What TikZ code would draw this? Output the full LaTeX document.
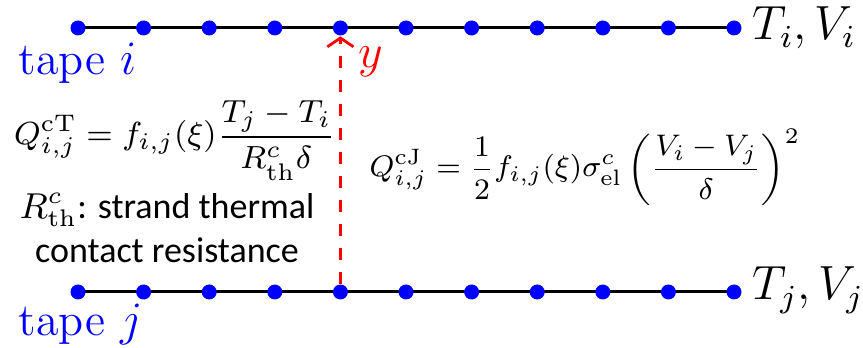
\documentclass[tikz,border=0pt]{standalone}
\usepackage{amsmath}
\usepackage{fontspec}
\newfontfamily\calibfont{Carlito}
\usetikzlibrary{arrows.meta,backgrounds}

\begin{document}
\begin{tikzpicture}[
        x=0.25pt, y=-0.25pt,
        dot/.style={circle, fill=blue, inner sep=0pt, minimum size=3.75pt},
        tapeline/.style={line width=0.75pt, black},
        gapline/.style={red, line width=0.7pt, dash pattern=on 3pt off 3pt,
            -{Straight Barb[length=2.2pt,width=6.5pt]}},
        lbl/.style={inner sep=0pt, font=\fontsize{11.5}{14}\selectfont},
        eqn/.style={inner sep=0pt, font=\fontsize{8}{10}\selectfont}
    ]
    \useasboundingbox (0,0) rectangle (863,348);
    % Nós das duas fitas
    \foreach \k in {0,...,10} {
        \node[dot] (ti\k) at (78+65.6*\k, 28) {};
        \node[dot] (tj\k) at (78+65.6*\k, 292) {};
    }
    \begin{scope}[on background layer]
        \draw[tapeline] (ti0.center) -- (ti10.center);
        \draw[tapeline] (tj0.center) -- (tj10.center);
        \draw[gapline] (tj4) -- (ti4);
    \end{scope}
    % Rótulos
    \node[lbl, blue, anchor=base west] (tapei) at (18,75) {tape $i$};
    \node[lbl, blue, anchor=base west] (tapej) at (18,336) {tape $j$};
    \node[lbl, anchor=base west] (tvi) at (752,40) {$T_i, V_i$};
    \node[lbl, anchor=base west] (tvj) at (752,300) {$T_j, V_j$};
    \node[lbl, red, anchor=base west] (ylbl) at (358,68) {$y$};
    % Equações
    \node[eqn, anchor=base] (qct) at (175,145)
        {$\displaystyle Q^{\mathrm{cT}}_{i,j} = f_{i,j}(\xi)\frac{T_j-T_i}{R^c_{\mathrm{th}}\delta}$};
    \node[eqn, anchor=base] (qcj) at (585,177)
        {\scalebox{0.93}{$\displaystyle Q^{\mathrm{cJ}}_{i,j} = \frac{1}{2}f_{i,j}(\xi)\sigma^c_{\mathrm{el}}\left(\frac{V_i-V_j}{\delta}\right)^2$}};
    \node[align=center, inner sep=0pt, font=\calibfont\fontsize{9}{11}\selectfont, anchor=base] (rth) at (167,263)
        {$R^c_{\mathrm{th}}$: strand thermal\\contact resistance};
\end{tikzpicture}
\end{document}
